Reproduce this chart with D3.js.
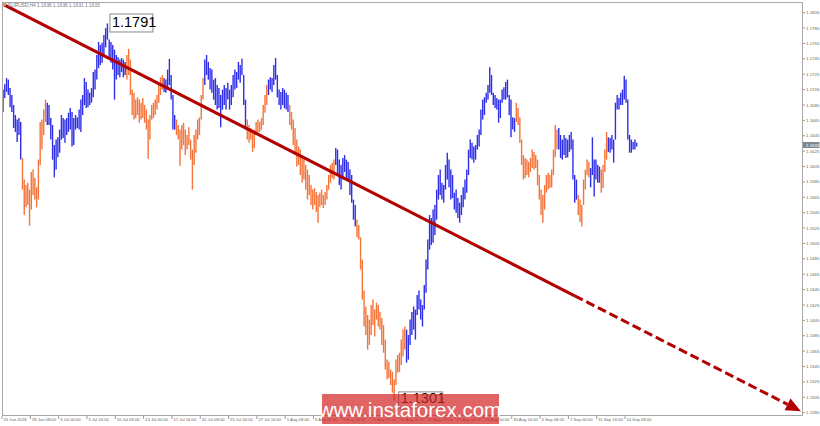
<!DOCTYPE html>
<html><head><meta charset="utf-8">
<script src="https://cdn.jsdelivr.net/npm/d3@7"></script>
<style>html,body{margin:0;padding:0;background:#fff;}svg{display:block;}</style>
</head><body>
<svg id="c" width="820" height="426"></svg>
<script>
// ---- data (EURUSD H4, 25 Jun 2018 16:00 .. 14 Sep 2018) ----
const highs = [
1.1705,1.1712,1.1720,1.1718,1.1707,1.1698,1.1685,1.1672,1.1666,1.1668,1.1663,
1.1616,1.1588,1.1581,1.1584,1.1575,1.1598,1.1601,1.1590,1.1578,1.1614,1.1663,1.1666,1.1679,1.1692,
1.1688,1.1685,1.1668,1.1659,1.1633,1.1640,1.1643,1.1653,1.1672,1.1668,1.1666,1.1668,1.1675,1.1681,1.1676,1.1668,
1.1672,1.1669,1.1679,1.1692,1.1698,1.1720,1.1715,1.1705,1.1701,1.1707,1.1728,1.1731,1.1750,1.1767,1.1763,1.1766,
1.1776,1.1785,1.1791,1.1770,1.1767,1.1763,1.1757,1.1750,1.1747,1.1744,1.1746,1.1744,1.1741,
1.1750,1.1758,1.1744,1.1705,1.1701,1.1692,1.1695,1.1692,1.1688,1.1694,1.1685,1.1679,1.1666,1.1672,1.1685,1.1688,
1.1692,1.1698,1.1711,1.1721,1.1724,
1.1720,1.1718,1.1731,1.1745,1.1724,1.1698,1.1672,
1.1666,1.1659,1.1653,1.1659,1.1662,1.1653,1.1646,1.1656,1.1640,1.1627,1.1646,1.1653,1.1666,1.1669,1.1698,1.1720,
1.1744,1.1750,1.1741,1.1733,1.1731,1.1718,1.1720,1.1711,1.1707,1.1698,1.1705,1.1711,1.1707,1.1714,1.1705,1.1711,
1.1724,1.1731,1.1728,1.1741,1.1737,1.1745,1.1724,1.1692,
1.1666,1.1659,1.1655,1.1649,1.1653,1.1663,1.1666,1.1663,1.1668,1.1685,1.1698,1.1711,
1.1718,1.1721,1.1720,1.1737,1.1746,1.1724,1.1705,1.1702,1.1707,1.1705,1.1701,1.1698,
1.1685,1.1676,1.1666,1.1655,1.1640,1.1631,1.1627,1.1620,1.1614,1.1607,1.1601,1.1594,1.1581,1.1575,1.1577,1.1572,
1.1568,1.1571,1.1575,1.1568,1.1572,1.1581,1.1594,1.1607,1.1610,1.1614,
1.1629,1.1627,1.1614,1.1607,1.1616,1.1620,1.1614,1.1611,1.1601,1.1594,1.1562,1.1555,
1.1536,1.1529,1.1513,1.1484,1.1444,1.1423,1.1412,1.1406,1.1425,1.1432,1.1419,1.1428,1.1425,1.1416,1.1408,1.1399,
1.1380,1.1354,1.1351,1.1341,1.1338,1.1328,1.1354,1.1360,1.1363,1.1380,1.1393,1.1397,
1.1393,1.1386,1.1406,1.1416,1.1423,1.1419,1.1438,1.1444,1.1432,1.1425,1.1451,1.1484,1.1510,1.1542,1.1538,1.1549,
1.1555,1.1575,1.1594,1.1601,1.1584,1.1581,1.1607,1.1623,1.1614,1.1601,1.1594,1.1571,1.1575,1.1564,1.1558,1.1568,
1.1578,1.1588,1.1601,1.1627,1.1640,1.1636,1.1631,1.1633,1.1646,1.1653,1.1679,1.1692,1.1695,1.1701,1.1711,1.1734,
1.1724,1.1701,1.1698,1.1694,1.1692,1.1692,1.1705,1.1708,1.1715,1.1718,1.1698,1.1692,1.1669,1.1668,
1.1688,1.1681,1.1669,1.1640,1.1620,1.1616,1.1614,1.1611,1.1616,1.1627,1.1624,1.1620,1.1614,1.1594,1.1575,1.1568,
1.1581,1.1594,1.1597,1.1594,1.1601,1.1627,1.1659,1.1653,
1.1655,1.1646,1.1640,1.1646,1.1642,1.1640,1.1646,1.1650,1.1640,1.1594,1.1588,
1.1568,1.1562,1.1555,1.1588,1.1601,1.1614,1.1611,
1.1603,1.1643,1.1614,1.1614,1.1607,1.1605,
1.1601,1.1607,1.1627,1.1650,
1.1643,1.1642,1.1646,1.1640,1.1688,1.1698,1.1694,1.1701,1.1705,1.1723,1.1718,1.1692,1.1646,1.1640,1.1637,1.1640,1.1636
];
const lows = [
1.1676,1.1694,1.1702,1.1698,1.1682,1.1676,1.1655,1.1650,1.1637,1.1646,1.1614,
1.1575,1.1542,1.1552,1.1555,1.1528,1.1549,1.1568,1.1562,1.1552,1.1562,1.1607,1.1627,1.1646,1.1663,
1.1659,1.1659,1.1640,1.1614,1.1591,1.1601,1.1617,1.1623,1.1640,1.1642,1.1636,1.1646,1.1650,1.1653,1.1631,1.1633,
1.1653,1.1655,1.1653,1.1650,1.1672,1.1685,1.1681,1.1682,1.1685,1.1688,1.1695,1.1705,1.1718,1.1733,1.1737,1.1740,
1.1750,1.1760,1.1770,1.1744,1.1740,1.1731,1.1692,1.1718,1.1724,1.1721,1.1728,1.1721,1.1724,
1.1718,1.1724,1.1698,1.1672,1.1666,1.1668,1.1672,1.1662,1.1666,1.1668,1.1662,1.1653,1.1615,1.1640,1.1666,1.1668,
1.1672,1.1679,1.1688,1.1698,1.1705,
1.1702,1.1701,1.1705,1.1711,1.1692,1.1653,1.1653,
1.1646,1.1640,1.1606,1.1627,1.1633,1.1620,1.1627,1.1633,1.1614,1.1575,1.1607,1.1623,1.1640,1.1646,1.1666,1.1692,
1.1711,1.1724,1.1718,1.1705,1.1701,1.1692,1.1685,1.1679,1.1681,1.1656,1.1679,1.1685,1.1679,1.1692,1.1679,1.1685,
1.1695,1.1705,1.1707,1.1718,1.1714,1.1724,1.1685,1.1653,
1.1640,1.1636,1.1640,1.1624,1.1629,1.1646,1.1649,1.1650,1.1653,1.1659,1.1675,1.1685,
1.1698,1.1705,1.1702,1.1711,1.1718,1.1695,1.1685,1.1679,1.1685,1.1681,1.1679,1.1676,
1.1659,1.1653,1.1633,1.1620,1.1605,1.1607,1.1594,1.1584,1.1588,1.1575,1.1562,1.1568,1.1555,1.1549,1.1555,1.1546,
1.1532,1.1552,1.1555,1.1551,1.1555,1.1562,1.1575,1.1584,1.1590,1.1588,
1.1607,1.1594,1.1581,1.1575,1.1588,1.1598,1.1590,1.1588,1.1568,1.1558,1.1536,1.1527,
1.1513,1.1510,1.1471,1.1432,1.1397,1.1386,1.1367,1.1373,1.1386,1.1399,1.1384,1.1406,1.1397,1.1393,1.1373,1.1363,
1.1341,1.1328,1.1330,1.1321,1.1311,1.1301,1.1321,1.1337,1.1338,1.1347,1.1358,1.1367,
1.1350,1.1354,1.1373,1.1386,1.1393,1.1380,1.1412,1.1419,1.1406,1.1397,1.1419,1.1441,1.1471,1.1497,1.1503,1.1506,
1.1516,1.1536,1.1562,1.1568,1.1562,1.1558,1.1575,1.1588,1.1578,1.1562,1.1564,1.1549,1.1545,1.1538,1.1532,1.1542,
1.1552,1.1562,1.1571,1.1594,1.1616,1.1614,1.1610,1.1614,1.1627,1.1631,1.1646,1.1666,1.1672,1.1688,1.1692,1.1701,
1.1698,1.1685,1.1681,1.1679,1.1662,1.1668,1.1688,1.1692,1.1692,1.1695,1.1672,1.1643,1.1653,1.1650,
1.1663,1.1659,1.1636,1.1607,1.1588,1.1590,1.1594,1.1591,1.1598,1.1603,1.1601,1.1603,1.1581,1.1562,1.1542,1.1532,
1.1549,1.1571,1.1575,1.1577,1.1578,1.1594,1.1617,1.1627,
1.1627,1.1616,1.1614,1.1620,1.1616,1.1617,1.1624,1.1627,1.1588,1.1558,1.1562,
1.1542,1.1533,1.1527,1.1555,1.1575,1.1594,1.1591,
1.1578,1.1594,1.1566,1.1588,1.1584,1.1584,
1.1571,1.1577,1.1598,1.1614,
1.1624,1.1623,1.1627,1.1610,1.1640,1.1679,1.1679,1.1685,1.1685,1.1692,1.1688,1.1640,1.1623,1.1623,1.1627,1.1627,1.1631
];
// wave colouring: first bar index of each wave, and direction
const waveStarts = [0,11,25,70,91,98,114,138,150,162,188,200,228,290,314,325,332,338,342];
const waveDirs   = ["up","down","up","down","up","down","up","down","up","down","up","down","up","down","up","down","up","down","up"];
// time-axis labels (every 16 H4 bars)
const timeLabels = ["25 Jun 2018","28 Jun 08:00","3 Jul 00:00","5 Jul 16:00","10 Jul 08:00","13 Jul 00:00",
 "17 Jul 16:00","20 Jul 08:00","25 Jul 00:00","27 Jul 16:00","1 Aug 08:00","6 Aug 00:00","8 Aug 16:00",
 "13 Aug 08:00","16 Aug 00:00","20 Aug 16:00","23 Aug 08:00","28 Aug 00:00","30 Aug 16:00","4 Sep 08:00",
 "7 Sep 00:00","11 Sep 16:00","14 Sep 08:00"];
const timeLabelStep = 16;
// price-axis labels
const priceTicks = [1.1805,1.1785,1.1765,1.1745,1.1725,1.1705,1.1685,1.1665,1.1645,1.1625,1.1605,1.1585,1.1565,
 1.1545,1.1525,1.1505,1.1485,1.1465,1.1445,1.1425,1.1405,1.1385,1.1365,1.1345,1.1325,1.1305,1.1285];
const lastPrice = 1.1633;
const headerText = "EURUSD,H4  1.1636 1.1636 1.1631 1.1633";
// trend line (bar index, price) and where it turns into a projection
const trendIdx = [-1.7, 450.8];
const trendPrice = [1.1818, 1.1287];
const trendDashFrom = 323;
// marked extremes
const peak = {idx: 59, price: 1.1791, label: "1.1791"};
const trough = {idx: 221, price: 1.1301, label: "1.1301"};
const watermark = "www.instaforex.com";

// ---- drawing ----
const svg = d3.select("#c");
const L = 2, T = 2, R = 803, B = 416;
const x = d3.scaleLinear().domain([0, 352]).range([3, 3 + 352 * 1.77]);
const y = d3.scaleLinear().domain([1.1285, 1.1805]).range([412.7, 12.7]);
const col = {up: "#2f2fe8", down: "#f5743a"};
const axFont = "Liberation Sans Narrow, Liberation Sans, Arial, sans-serif";

svg.append("rect").attr("x", 0).attr("y", 0).attr("width", 820).attr("height", 426).attr("fill", "#fff");

const clip = svg.append("defs").append("clipPath").attr("id", "pc");
clip.append("rect").attr("x", L).attr("y", T).attr("width", R - L).attr("height", B - T);

const plot = svg.append("g").attr("clip-path", "url(#pc)");

function dirOf(i) {
  let d = waveDirs[0];
  for (let k = 0; k < waveStarts.length; k++) if (i >= waveStarts[k]) d = waveDirs[k];
  return d;
}
plot.append("g").selectAll("line").data(highs).join("line")
  .attr("x1", (d, i) => x(i)).attr("x2", (d, i) => x(i))
  .attr("y1", d => y(d)).attr("y2", (d, i) => y(lows[i]))
  .attr("stroke", (d, i) => col[dirOf(i)]).attr("stroke-width", 1.4);

// trend line
const tSlope = (trendPrice[1] - trendPrice[0]) / (trendIdx[1] - trendIdx[0]);
const tAt = i => trendPrice[0] + tSlope * (i - trendIdx[0]);
const red = "#b30000";
plot.append("line").attr("x1", x(trendIdx[0])).attr("y1", y(trendPrice[0]))
  .attr("x2", x(trendDashFrom)).attr("y2", y(tAt(trendDashFrom)))
  .attr("stroke", red).attr("stroke-width", 3);
const ex = x(trendIdx[1]), ey = y(trendPrice[1]);
const ang = Math.atan2(ey - y(tAt(trendDashFrom)), ex - x(trendDashFrom));
const aLen = 15, aW = 6.5;
const bx = ex - aLen * Math.cos(ang), by = ey - aLen * Math.sin(ang);
plot.append("line").attr("x1", x(trendDashFrom)).attr("y1", y(tAt(trendDashFrom)))
  .attr("x2", bx).attr("y2", by)
  .attr("stroke", red).attr("stroke-width", 3).attr("stroke-dasharray", "9,4");
plot.append("path")
  .attr("d", `M${ex},${ey}L${bx - aW * Math.sin(ang)},${by + aW * Math.cos(ang)}L${bx + aW * Math.sin(ang)},${by - aW * Math.cos(ang)}Z`)
  .attr("fill", red);

// frame
svg.append("rect").attr("x", L + 0.5).attr("y", T + 0.5).attr("width", R - L - 1).attr("height", B - T - 1)
  .attr("fill", "none").attr("stroke", "#a8a8a8").attr("stroke-width", 1);

// price axis
const pa = svg.append("g");
priceTicks.forEach(p => {
  pa.append("line").attr("x1", R).attr("x2", R + 2).attr("y1", y(p)).attr("y2", y(p)).attr("stroke", "#999");
  pa.append("text").attr("x", R + 3).attr("y", y(p)).attr("dy", "0.35em")
    .attr("font-family", axFont).attr("font-size", 4.4).attr("fill", "#666").text(p.toFixed(4));
});
pa.append("rect").attr("x", R).attr("y", y(lastPrice) - 3).attr("width", 16.5).attr("height", 6).attr("fill", "#7d8894");
pa.append("text").attr("x", R + 3).attr("y", y(lastPrice)).attr("dy", "0.35em")
  .attr("font-family", axFont).attr("font-size", 4.4).attr("fill", "#fff").text(lastPrice.toFixed(4));

// time axis
const ta = svg.append("g");
timeLabels.forEach((t, k) => {
  const xx = x(k * timeLabelStep) - 1;
  ta.append("line").attr("x1", xx).attr("x2", xx).attr("y1", B).attr("y2", B + 3).attr("stroke", "#999");
  ta.append("text").attr("x", xx + 1.5).attr("y", B + 4.5)
    .attr("font-family", axFont).attr("font-size", 4.2).attr("fill", "#666").text(t);
});

// header
svg.append("rect").attr("x", 3).attr("y", 3).attr("width", 3).attr("height", 3).attr("fill", "#c9a060");
svg.append("text").attr("x", 8).attr("y", 7).attr("font-family", axFont)
  .attr("font-size", 4.8).attr("fill", "#777").text(headerText);

// extreme labels
function boxLabel(px, py, txt, w, h, fs) {
  const g = svg.append("g");
  g.append("rect").attr("x", px + 0.5).attr("y", py + 0.5).attr("width", w).attr("height", h)
    .attr("fill", "#fff").attr("stroke", "#8a8a8a").attr("stroke-width", 1);
  g.append("text").attr("x", px + 2.5).attr("y", py + h - 4).attr("font-family", "Liberation Sans, Arial, sans-serif")
    .attr("font-size", fs).attr("fill", "#000").text(txt);
}
boxLabel(x(peak.idx) + 2, y(peak.price) - 10, peak.label, 43, 18, 14.5);
boxLabel(x(trough.idx) + 4, y(trough.price) - 9, trough.label, 44, 16, 14.5);

// watermark
const wm = svg.append("g");
wm.append("rect").attr("x", 322).attr("y", 394).attr("width", 177).attr("height", 30)
  .attr("fill", "rgb(214,40,40)").attr("fill-opacity", 0.72);
wm.append("text").attr("x", 410).attr("y", 417).attr("text-anchor", "middle")
  .attr("font-family", "Liberation Sans, Arial, sans-serif").attr("font-size", 20.5).attr("fill", "#fff").text(watermark);
</script>
</body></html>
